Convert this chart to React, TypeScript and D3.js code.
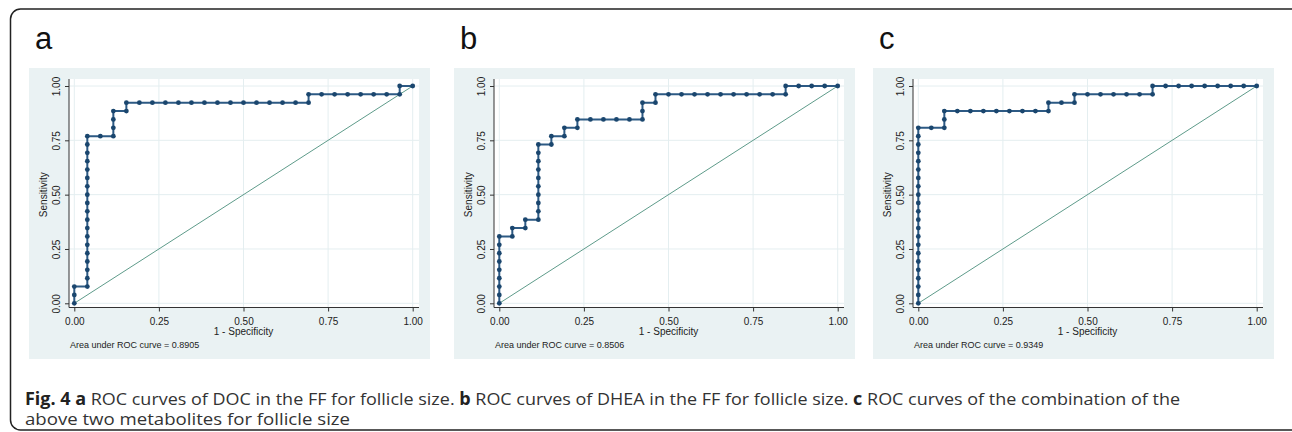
import React, { useRef, useEffect } from "react";
import * as d3 from "d3";

// ROC points as counts: false positives / true positives out of 26 each
const N_NEG = 26;
const N_POS = 26;

const fpA = [0, 0, 0, 1, 1, 1, 1, 1, 1, 1, 1, 1, 1, 1, 1, 1, 1, 1, 1, 1, 1, 1, 2, 3, 3, 3, 3, 4, 4, 5, 6, 7, 8, 9, 10, 11, 12, 13, 14, 15, 16, 17, 18, 18, 19, 20, 21, 22, 23, 24, 25, 25, 26];
const tpA = [0, 1, 2, 2, 3, 4, 5, 6, 7, 8, 9, 10, 11, 12, 13, 14, 15, 16, 17, 18, 19, 20, 20, 20, 21, 22, 23, 23, 24, 24, 24, 24, 24, 24, 24, 24, 24, 24, 24, 24, 24, 24, 24, 25, 25, 25, 25, 25, 25, 25, 25, 26, 26];

const fpB = [0, 0, 0, 0, 0, 0, 0, 0, 0, 1, 1, 2, 2, 3, 3, 3, 3, 3, 3, 3, 3, 3, 3, 4, 4, 5, 5, 6, 6, 7, 8, 9, 10, 11, 11, 11, 12, 12, 13, 14, 15, 16, 17, 18, 19, 20, 21, 22, 22, 23, 24, 25, 26];
const tpB = [0, 1, 2, 3, 4, 5, 6, 7, 8, 8, 9, 9, 10, 10, 11, 12, 13, 14, 15, 16, 17, 18, 19, 19, 20, 20, 21, 21, 22, 22, 22, 22, 22, 22, 23, 24, 24, 25, 25, 25, 25, 25, 25, 25, 25, 25, 25, 25, 26, 26, 26, 26, 26];

const fpC = [0, 0, 0, 0, 0, 0, 0, 0, 0, 0, 0, 0, 0, 0, 0, 0, 0, 0, 0, 0, 0, 0, 1, 2, 2, 2, 3, 4, 5, 6, 7, 8, 9, 10, 10, 11, 12, 12, 13, 14, 15, 16, 17, 18, 18, 19, 20, 21, 22, 23, 24, 25, 26];
const tpC = [0, 1, 2, 3, 4, 5, 6, 7, 8, 9, 10, 11, 12, 13, 14, 15, 16, 17, 18, 19, 20, 21, 21, 21, 22, 23, 23, 23, 23, 23, 23, 23, 23, 23, 24, 24, 24, 25, 25, 25, 25, 25, 25, 25, 26, 26, 26, 26, 26, 26, 26, 26, 26];

const panelLetters = ["a", "b", "c"];
const aucValues = ["0.8905", "0.8506", "0.9349"];
const panelFp = [fpA, fpB, fpC];
const panelTp = [tpA, tpB, tpC];
const panelLeft = [29, 454, 873];

const axisTicks = [0, 0.25, 0.5, 0.75, 1];
const xTitle = "1 - Specificity";
const yTitle = "Sensitivity";

const captionLine1 = [
  { t: "Fig. 4 a", b: true },
  { t: " ROC curves of DOC in the FF for follicle size. ", b: false },
  { t: "b", b: true },
  { t: " ROC curves of DHEA in the FF for follicle size. ", b: false },
  { t: "c", b: true },
  { t: " ROC curves of the combination of the", b: false },
];
const captionLine2 = "above two metabolites for follicle size";

const W = 1292;
const H = 432;

export default function App() {
  const svgRef = useRef<SVGSVGElement>(null);

  useEffect(() => {
    document.body.style.margin = "0";
    const svg = d3.select(svgRef.current);
    svg.selectAll("*").remove();

    // outer figure frame
    svg.append("rect")
      .attr("x", 10.5).attr("y", 9)
      .attr("width", 1290).attr("height", 421)
      .attr("rx", 10)
      .attr("fill", "white")
      .attr("stroke", "#222").attr("stroke-width", 1.5);

    const PW = 401, PH = 291;
    const font = "'Liberation Sans', Arial, sans-serif";

    panelLetters.forEach((letter, i) => {
      const left = panelLeft[i];

      svg.append("text")
        .attr("x", left + 6).attr("y", 49)
        .attr("font-family", font).attr("font-size", 31)
        .attr("fill", "#111")
        .text(letter);

      const g = svg.append("g").attr("transform", `translate(${left},68)`);
      g.append("rect").attr("width", PW).attr("height", PH).attr("fill", "#eaf2f3");

      const axX = 40, axY = 239.5;
      g.append("rect")
        .attr("x", axX).attr("y", 11)
        .attr("width", 390 - axX).attr("height", axY - 11)
        .attr("fill", "white");

      const x = d3.scaleLinear().domain([0, 1]).range([45.3, 383.7]);
      const y = d3.scaleLinear().domain([0, 1]).range([235.3, 18]);

      // grid
      g.append("g").selectAll("line").data(axisTicks).join("line")
        .attr("x1", (d) => x(d)).attr("x2", (d) => x(d))
        .attr("y1", 11).attr("y2", axY)
        .attr("stroke", "#e4eef0").attr("stroke-width", 1);
      g.append("g").selectAll("line").data(axisTicks).join("line")
        .attr("x1", axX).attr("x2", 390)
        .attr("y1", (d) => y(d)).attr("y2", (d) => y(d))
        .attr("stroke", "#e4eef0").attr("stroke-width", 1);

      // axes
      const fmt = d3.format(".2f");
      const xAxis = g.append("g")
        .attr("transform", `translate(0,${axY})`)
        .call(d3.axisBottom(x).tickValues(axisTicks).tickFormat(fmt).tickSize(4).tickPadding(6).tickSizeOuter(0));
      xAxis.select(".domain").attr("d", `M${axX},0H390`).attr("stroke", "#333");
      xAxis.selectAll(".tick line").attr("stroke", "#333");
      xAxis.selectAll("text")
        .attr("font-family", font).attr("font-size", 10).attr("fill", "#222");

      const yAxis = g.append("g")
        .attr("transform", `translate(${axX},0)`)
        .call(d3.axisLeft(y).tickValues(axisTicks).tickFormat(fmt).tickSize(4).tickSizeOuter(0));
      yAxis.select(".domain").attr("d", `M0,11V${axY}`).attr("stroke", "#333");
      yAxis.selectAll(".tick line").attr("stroke", "#333");
      yAxis.selectAll("text")
        .attr("font-family", font).attr("font-size", 10).attr("fill", "#222")
        .attr("transform", "rotate(-90)")
        .attr("text-anchor", "middle")
        .attr("x", 0).attr("y", -9).attr("dy", 0);

      g.append("text")
        .attr("x", (x(0) + x(1)) / 2).attr("y", 267)
        .attr("text-anchor", "middle")
        .attr("font-family", font).attr("font-size", 10).attr("fill", "#222")
        .text(xTitle);

      g.append("text")
        .attr("transform", `translate(18,${(y(0) + y(1)) / 2}) rotate(-90)`)
        .attr("text-anchor", "middle")
        .attr("font-family", font).attr("font-size", 10).attr("fill", "#222")
        .text(yTitle);

      g.append("text")
        .attr("x", 41).attr("y", 280)
        .attr("font-family", font).attr("font-size", 9).attr("fill", "#222")
        .text(`Area under ROC curve = ${aucValues[i]}`);

      // reference diagonal
      g.append("line")
        .attr("x1", x(0)).attr("y1", y(0))
        .attr("x2", x(1)).attr("y2", y(1))
        .attr("stroke", "#5e9b8a").attr("stroke-width", 1);

      const pts = panelFp[i].map((fp, k) => [fp / N_NEG, panelTp[i][k] / N_POS]);
      const line = d3.line<number[]>().x((d) => x(d[0])).y((d) => y(d[1]));
      g.append("path")
        .attr("d", line(pts))
        .attr("fill", "none")
        .attr("stroke", "#2d5a84").attr("stroke-width", 2);
      g.append("g").selectAll("circle").data(pts).join("circle")
        .attr("cx", (d) => x(d[0])).attr("cy", (d) => y(d[1]))
        .attr("r", 2.4)
        .attr("fill", "#1a466e");
    });

    // caption
    const capFont = "'Open Sans', Lato, sans-serif";
    const cap1 = svg.append("text")
      .attr("x", 25).attr("y", 405)
      .attr("textLength", 1155).attr("lengthAdjust", "spacingAndGlyphs")
      .attr("font-family", capFont).attr("font-size", 17).attr("fill", "#333");
    captionLine1.forEach((seg) => {
      cap1.append("tspan")
        .attr("font-weight", seg.b ? "bold" : "normal")
        .attr("fill", seg.b ? "#222" : "#333")
        .text(seg.t);
    });
    svg.append("text")
      .attr("x", 25).attr("y", 425)
      .attr("textLength", 325).attr("lengthAdjust", "spacingAndGlyphs")
      .attr("font-family", capFont).attr("font-size", 17).attr("fill", "#333")
      .text(captionLine2);
  }, []);

  return <svg ref={svgRef} width={W} height={H} style={{ display: "block" }}></svg>;
}
